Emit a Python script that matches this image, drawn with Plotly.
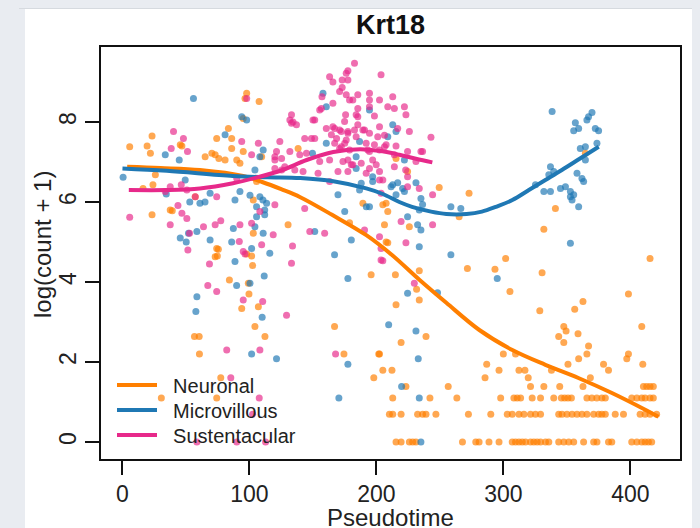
import plotly.graph_objects as go

# ---------------- data ----------------
# Neuronal (orange) cells: pseudotime, log(count + 1)
neu_x = [5.7, 23.3, 19.4, 22, 25.9, 24, 16.2, 23.3, 37.6, 39.2, 45.5, 65.1, 70.4, 73, 75.9, 80.8, 74.2, 83.4,
         86, 86, 90, 92.5, 95.1, 97.8, 96.5, 107.6, 95.1, 57.3, 103, 105.6, 109.6, 103, 74.2, 73, 130.4, 138.3,
         189.3, 206.3, 207.6, 208.9, 207.6, 178.8, 46.8,
         224.5, 249.4, 272.9, 205, 265.1, 340.9, 331.8, 364.5, 301.7, 415.4, 225.9, 208.9,
         271.6, 293.3, 330.4, 305.1, 233.7, 214.9, 233.7, 231.6, 215.4, 239, 219.4, 202.4, 205, 212.2,
         328.6, 356.1, 362.6, 398.4, 408.9, 347.5, 349.3, 343.5, 347.5, 358.7, 367, 365.7, 359.2, 350.8,
         378.8, 382.7, 398.4, 397.1, 409.7, 368.4, 299.9, 309.5, 286.8, 285.5, 296.5, 312.2, 316.9, 319.5, 337.8,
         75.5, 74.7, 97.8, 101.7, 102.5, 84.2, 99.1, 99.6, 93.9, 107, 104.3, 56.7, 60.4, 112.2, 60.6, 167,
         174.4, 201.8, 195.8, 77.4, 197.9, 215.4,
         # log(4) row
         321.3, 331.8, 344.3, 362.6, 410.2, 412.8, 415.4, 418, 223.2, 256.5,
         # log(3) row
         30.6, 74.2, 212.8, 242.1, 263.3, 297.8, 308.2, 310.8, 313.5, 322.6, 329.2, 339.6, 345.6, 348.2, 350.8,
         353.5, 365.7, 369.6, 373.5, 377.5, 380.2, 401, 405, 408.9, 411.5, 415.4, 418,
         # log(2) row
         210.2, 212.8, 219.4, 232.4, 236.3, 239, 246.8, 272.4, 290, 303, 306.9, 312.2, 316.1, 321.3, 325.2,
         329.2, 343.5, 346.1, 350, 354, 357.9, 361.8, 365.7, 371, 374.9, 377.5, 380.2, 388, 394.5, 407.6,
         411.5, 415.4, 420.6,
         # zero row
         215.4, 219.4, 225.9, 228.5, 231.1, 267.7, 278.2, 280.8, 288.6, 296.5, 306.9, 309.5, 312.2, 314.8,
         317.4, 321.3, 323.9, 326.5, 329.2, 333.1, 335.7, 343.5, 347.5, 351.4, 355.3, 363.1, 371, 373.6,
         382.7, 385.3, 401, 405, 408.9, 411.5, 414.1, 416.7]
neu_y = [7.38, 7.65, 7.4, 7.22, 6.68, 6.43, 6.34, 5.68, 5.8, 5.78, 7.43, 7.13, 7.22, 7.18, 7.09, 7.05, 7.59, 7.84,
         7.59, 7.34, 7.05, 6.97, 7.26, 8.72, 8.59, 8.51, 8.09, 6.13, 6.05, 6.51, 7.13, 5.22, 4.84, 4.63, 5.43, 7.34,
         5.97, 5.43, 5.97, 5.76, 5.0, 5.48, 7.4,
         6.76, 6.36, 6.22, 5.93, 5.63, 5.84, 5.32, 7.22, 4.59, 4.59, 5.38, 4.98,
         4.34, 4.32, 4.23, 3.76, 4.28, 4.18, 3.55, 3.82, 3.43, 2.639, 2.485, 2.197, 1.792, 1.792,
         3.28, 3.32, 3.51, 3.7, 2.89, 2.89, 2.773, 2.639, 2.485, 2.708, 2.398, 2.197, 2.079, 1.946,
         1.946, 1.792, 2.197, 2.079, 1.946, 1.609, 2.197, 2.197, 1.946, 1.609, 1.792, 1.792, 1.792, 1.609, 1.792,
         4.82, 4.65, 4.7, 4.65, 4.41, 4.05, 3.97, 3.7, 3.34, 3.38, 2.89, 2.639, 2.639, 2.639, 2.197, 2.89,
         2.197, 2.197, 4.18, 1.609, 1.609, 7.09,
         1.386, 1.386, 1.386, 1.386, 1.386, 1.386, 1.386, 1.386, 1.386, 1.386,
         1.099, 1.099, 1.099, 1.099, 1.099, 1.099, 1.099, 1.099, 1.099, 1.099, 1.099, 1.099, 1.099, 1.099, 1.099,
         1.099, 1.099, 1.099, 1.099, 1.099, 1.099, 1.099, 1.099, 1.099, 1.099, 1.099, 1.099,
         0.693, 0.693, 0.693, 0.693, 0.693, 0.693, 0.693, 0.693, 0.693, 0.693, 0.693, 0.693, 0.693, 0.693, 0.693,
         0.693, 0.693, 0.693, 0.693, 0.693, 0.693, 0.693, 0.693, 0.693, 0.693, 0.693, 0.693, 0.693, 0.693, 0.693,
         0.693, 0.693, 0.693,
         0, 0, 0, 0, 0, 0, 0, 0, 0, 0, 0, 0, 0, 0,
         0, 0, 0, 0, 0, 0, 0, 0, 0, 0, 0, 0, 0, 0,
         0, 0, 0, 0, 0, 0, 0, 0]

# Microvillous (blue) cells
mic_x = [55.9, 0.5, 33.7, 44.7, 49.4, 34.5, 53, 61, 65, 69, 45.5, 52, 50.2, 58.6, 69, 88.6, 92.5, 80.8, 93.9,
         97.8, 87.3, 86, 100.4, 104.3, 110.8, 108.2, 108.2, 110.6, 113.5, 112, 105.6, 105.6, 112, 104.3, 110.8,
         116, 101.7, 151.4, 157.9, 160.5, 160.5, 169.7, 175, 180.2, 167, 186.7, 184, 194.5, 197, 184, 192,
         212.8, 215.4, 212.8, 215.4,
         208.9, 216.7, 222, 231.1, 235, 233.7, 224.5, 232.4, 235, 233.7, 258.6, 266.4, 258.6, 338.3, 356.6,
         355.3, 359.2, 365.7, 369.7, 367, 372.3, 374.9, 373.6, 364.5, 360.5, 364.5, 337, 335.7, 339.6, 325.2,
         331.8, 337, 344.9, 348.8, 352.7, 352.7, 355.3, 354, 359.2, 357.9, 361.8, 363.1, 352.7,
         295.1, 224.5, 248.1, 209.6, 231.1, 232.9, 219.8,
         88.6, 111.6, 89.9, 100.4, 58.6, 57.8, 110, 101.7, 121.3, 177.5, 177.5, 170.4,
         149.6, 222, 194.5, 186.7, 188, 211.5, 220.6, 236.3, 197, 235, 233.7]
mic_y = [8.59, 6.62, 7.18, 7.05, 6.55, 6.2, 6.0, 5.97, 6.0, 6.22, 5.1, 5.22, 5.0, 5.26, 5.05, 6.05, 6.26, 7.68, 8.13,
         8.05, 5.34, 5.0, 6.17, 6.8, 7.3, 7.13, 6.13, 6.05, 5.97, 5.8, 5.88, 5.63, 5.68, 5.38, 5.22,
         4.72, 4.84, 5.26, 8.72, 8.38, 7.47, 6.18, 5.76, 5.05, 4.68, 7.51, 7.13, 8.3, 6.63, 6.84, 5.88,
         7.93, 7.76, 6.43, 6.18,
         7.63, 6.48, 6.26, 6.48, 6.09, 5.8, 5.63, 5.43, 5.3, 4.88, 5.88, 5.84, 4.68, 8.26, 7.98,
         7.78, 7.84, 8.05, 8.24, 8.13, 7.84, 7.78, 7.47, 7.38, 7.34, 7.05, 6.88, 6.68, 6.76, 6.43,
         6.26, 6.26, 6.34, 6.38, 6.26, 6.13, 6.18, 6.05, 5.88, 6.72, 6.59, 6.51, 4.97,
         4.09, 3.72, 3.73, 2.93, 2.773, 2.079, 1.386,
         4.51, 4.15, 3.91, 3.97, 3.63, 3.26, 3.12, 2.197, 2.079, 4.09, 1.946, 1.099,
         7.22, 7.05, 5.88, 6.3, 6.47, 6.38, 6.34, 5.94, 6.51, 0, 1.099]

# Sustentacular (pink) cells
sus_x = [5.7, 40.2, 48, 38.4, 51.2, 37.6, 33.7, 46.3, 50.7, 57.3, 43.7, 46.8, 50.7, 37.6, 52.8, 51.5, 63.8, 73,
         77.4, 74.2, 90, 93.9, 97.8, 107, 101.7, 120, 123.9, 120, 125.3, 127.8, 108.2, 101.7, 92.5, 95.1, 109.6,
         118.7, 120, 133.1, 134.3, 143.5, 148.8, 142.2, 143.5, 147.5, 159.2, 150, 155.3, 163.1, 165.7, 171,
         176.2, 182.7, 177.5, 181.4, 165.7, 165.7, 171, 177.5, 184, 189.3, 185.3, 184, 194.5, 194.5, 202.4,
         203.6, 212.8, 214.1, 171, 175, 177.5, 181.4, 177.5, 193.2, 197, 198.4, 206.3, 214.1, 214.1, 163.1,
         202.4, 203.6, 202.4, 203.6,
         208.9, 222, 223.2, 216.7, 225.9, 242.9, 207.6, 215.4, 235, 224.5, 224.5, 205, 233.7, 224.5, 244.2,
         219.4, 244.2, 223.2, 205, 229.8,
         68.5, 133.9, 133.1, 96.5, 67.2, 74.2, 95.1, 110.4, 129.2, 82.1, 108.2, 167.8, 92,
         85.3, 107.7, 102.5, 58.6, 90, 112.7,
         177.5, 173, 173, 176.2, 178.8, 185.3, 157.1, 156.6, 194.5, 198.4, 175.7, 185.3, 131.8, 137, 133.1,
         151.4, 174.9, 185.3, 160.5, 167.1, 172.3, 177.5, 164.5, 168.6, 176.2, 182.7, 190.6, 194.5, 202.4,
         201, 206.3, 151.4, 121.3, 131.8, 139.6, 144.9, 167.1, 172.3, 178.8, 191.9, 194.5, 202.4, 236.3,
         120, 125.3, 155.3, 163.1, 173.6, 180.2, 188, 194.5, 199.8, 231.1, 135.7, 154, 169.7, 191.9, 202.4,
         190.6, 203.6, 223]
sus_y = [5.62, 7.76, 7.59, 7.34, 7.26, 6.38, 6.26, 6.43, 6.3, 6.13, 5.91, 5.72, 5.59, 5.43, 5.22, 4.8, 5.38, 5.43,
         5.53, 6.13, 6.59, 7.51, 8.59, 7.47, 7.18, 7.05, 7.51, 6.84, 6.8, 6.88, 5.76, 5.47, 5.43, 4.76, 4.93,
         5.18, 5.93, 8.18, 8.0, 7.59, 7.59, 6.76, 5.84, 5.26, 5.22, 8.05, 8.3, 9.13, 9.0, 8.76,
         9.22, 9.47, 9.05, 8.55, 8.47, 7.88, 7.8, 7.76, 7.63, 7.8, 8.34, 8.18, 8.72, 8.55, 8.55,
         9.18, 8.63, 8.34, 7.34, 7.47, 7.05, 6.93, 6.76, 7.3, 7.05, 7.43, 7.38, 7.18, 6.88, 6.51,
         6.55, 6.22, 5.13, 4.84,
         8.38, 8.38, 8.18, 7.84, 7.76, 7.62, 7.43, 7.4, 7.26, 7.26, 6.63, 6.55, 6.34, 6.38, 6.18,
         5.51, 5.43, 4.98, 4.53, 3.97,
         4.45, 4.9, 4.47, 4.7, 3.91, 3.76, 3.55, 3.51, 3.17, 2.303, 2.303, 2.197, 5.01,
         1.609, 1.099, 0.693, 0, 0, 0,
         9.28, 9.05, 8.86, 8.68, 8.55, 8.68, 8.63, 8.34, 8.38, 8.15, 8.18, 8.13, 8.05, 7.93, 7.97,
         8.05, 8.01, 7.93, 7.84, 7.84, 7.76, 7.72, 7.68, 7.59, 7.55, 7.8, 7.8, 7.72, 7.88,
         7.63, 7.67, 7.59, 7.26, 7.26, 7.18, 7.22, 7.47, 7.38, 7.3, 7.47, 7.26, 7.3, 7.26,
         7.13, 7.09, 7.01, 7.05, 7.01, 6.93, 6.97, 6.84, 6.93, 7.01, 6.8, 6.72, 6.76, 6.72, 6.76,
         5.3, 4.55, 6.8]

# Smoothed trends
neu_curve_x = [3.7, 30, 61, 95, 110, 125, 140, 165, 192, 212, 234, 255, 281, 307, 333, 359, 385, 412, 422]
neu_curve_y = [6.88, 6.85, 6.8, 6.65, 6.5, 6.32, 6.12, 5.68, 5.17, 4.68, 4.05, 3.48, 2.8, 2.3, 1.93, 1.6, 1.23, 0.8, 0.63]
mic_curve_x = [0, 35, 87, 114, 140, 166, 192, 205, 218, 228, 243, 255, 271, 283, 294, 307, 320, 333, 346, 360, 375]
mic_curve_y = [6.84, 6.78, 6.65, 6.62, 6.6, 6.52, 6.34, 6.2, 6.0, 5.88, 5.76, 5.7, 5.7, 5.76, 5.88, 6.05, 6.3, 6.55,
               6.8, 7.08, 7.38]
sus_curve_x = [5, 35, 61, 87, 108, 126, 145, 166, 187, 202, 218, 231, 244]
sus_curve_y = [6.3, 6.3, 6.34, 6.47, 6.63, 6.8, 7.05, 7.25, 7.32, 7.28, 7.18, 7.08, 6.99]

series_names = ["Neuronal", "Microvillous", "Sustentacular"]
x_ticks = [0, 100, 200, 300, 400]
y_ticks = [0, 2, 4, 6, 8]

ORANGE = "#FF7F00"
BLUE = "#1F78B4"
PINK = "#E7298A"
FONT = "Liberation Sans, Arial, sans-serif"
NB = "\u00a0\u00a0"

fig = go.Figure()
for xs, ys, col in [(neu_x, neu_y, ORANGE), (mic_x, mic_y, BLUE), (sus_x, sus_y, PINK)]:
    fig.add_trace(go.Scatter(x=xs, y=ys, mode="markers", showlegend=False, hoverinfo="skip",
                             marker=dict(color=col, size=7, opacity=0.68, line=dict(width=0))))

for xs, ys, col, name, lg in [(neu_curve_x, neu_curve_y, ORANGE, series_names[0], "legend"),
                              (mic_curve_x, mic_curve_y, BLUE, series_names[1], "legend2"),
                              (sus_curve_x, sus_curve_y, PINK, series_names[2], "legend3")]:
    fig.add_trace(go.Scatter(x=xs, y=ys, mode="lines", name=NB + name, legend=lg,
                             line=dict(color=col, width=4, shape="spline", smoothing=1.0)))

OFF = 8  # page body margin: screen pixel = figure pixel + 8
W, H = 700, 528
L, T = 101 - OFF, 47 - OFF
R = W - (680 - OFF)
B = H - (459 - OFF)
pw, ph = W - L - R, H - T - B


def px_x(p):
    return (p - OFF - L) / pw


def px_y(p):
    return (H - B - (p - OFF)) / ph


leg_common = dict(bgcolor="rgba(0,0,0,0)", borderwidth=0, xanchor="left", yanchor="middle",
                  font=dict(family=FONT, size=20, color="#222"), itemwidth=40, x=px_x(112))

fig.update_layout(
    width=W, height=H,
    margin=dict(l=L, r=R, t=T, b=B),
    paper_bgcolor="#E9ECF1",
    plot_bgcolor="white",
    font=dict(family=FONT, color="#222"),
    legend=dict(leg_common, y=px_y(385)),
    legend2=dict(leg_common, y=px_y(410)),
    legend3=dict(leg_common, y=px_y(435)),
    shapes=[
        dict(type="rect", xref="paper", yref="paper", x0=px_x(25), x1=px_x(720), y0=px_y(545), y1=px_y(9),
             fillcolor="white", line=dict(width=0), layer="below"),
        dict(type="line", xref="paper", yref="paper", x0=px_x(19), x1=px_x(720), y0=px_y(8), y1=px_y(8),
             line=dict(color="#C4C8CE", width=1.2), layer="below"),
    ],
    annotations=[
        dict(text="<b>Krt18</b>", xref="paper", yref="paper", x=0.5, y=px_y(25), showarrow=False,
             font=dict(family=FONT, size=27, color="#111"), xanchor="center", yanchor="middle"),
        dict(text="Pseudotime", xref="paper", yref="paper", x=0.5, y=px_y(517), showarrow=False,
             font=dict(family=FONT, size=24, color="#222"), xanchor="center", yanchor="middle"),
        dict(text="log(count + 1)", xref="paper", yref="paper", x=px_x(42), y=px_y(245), showarrow=False,
             textangle=-90, font=dict(family=FONT, size=24, color="#222"), xanchor="center", yanchor="middle"),
    ],
)
fig.update_xaxes(range=[-16.9, 439], tickvals=x_ticks, ticktext=[str(v) for v in x_ticks],
                 showgrid=False, zeroline=False, showline=True, mirror=True, linecolor="#111", linewidth=1.6,
                 ticks="outside", ticklen=14, tickwidth=1.6, tickcolor="#111",
                 tickfont=dict(family=FONT, size=23, color="#222"))
fig.update_yaxes(range=[-0.425, 9.875], tickvals=y_ticks, ticktext=[str(v) for v in y_ticks],
                 showgrid=False, zeroline=False, showline=True, mirror=True, linecolor="#111", linewidth=1.6,
                 ticks="outside", ticklen=14, tickwidth=1.6, tickcolor="#111", tickangle=-90,
                 tickfont=dict(family=FONT, size=23, color="#222"))

fig.write_html("out.html", post_script="document.body.style.background='#E9ECF1';")
